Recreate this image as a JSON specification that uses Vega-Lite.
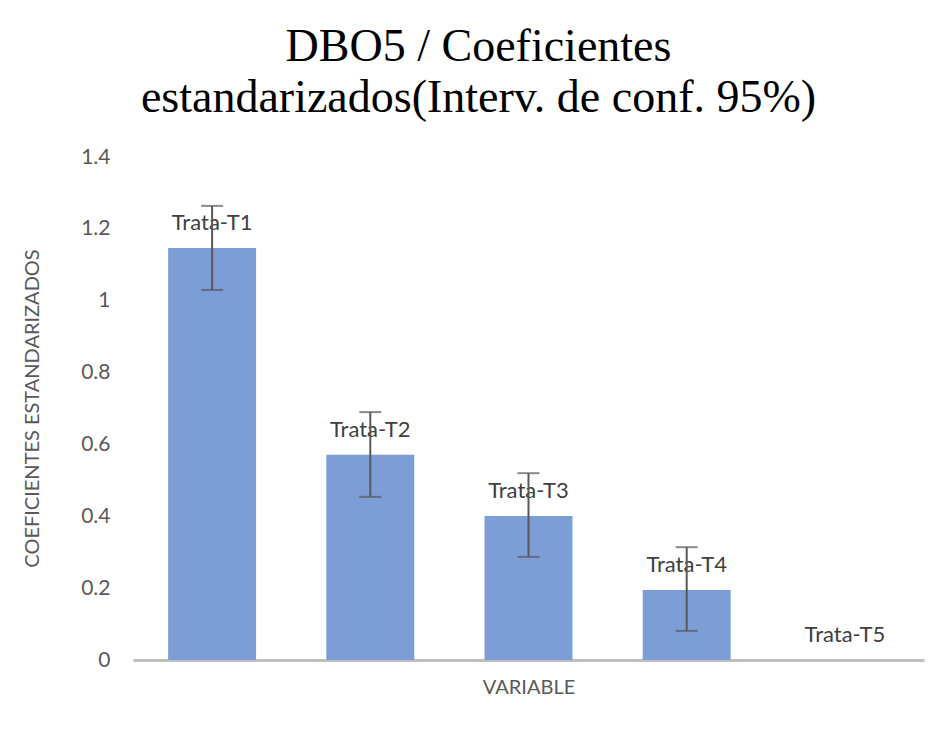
{
  "$schema": "https://vega.github.io/schema/vega-lite/v6.json",
  "autosize": "none",
  "width": 791,
  "height": 503,
  "padding": {"left": 133, "top": 157, "right": 18, "bottom": 71},
  "background": "white",
  "title": {
    "text": ["DBO5 / Coeficientes", "estandarizados(Interv. de conf. 95%)"],
    "font": "Liberation Serif",
    "fontSize": 46,
    "fontWeight": "normal",
    "color": "#000000",
    "lineHeight": 51,
    "anchor": "middle",
    "dx": -50,
    "offset": 24
  },
  "config": {
    "view": {"stroke": null},
    "axis": {"labelFont": "Lato", "titleFont": "Lato", "labelColor": "#595959", "titleColor": "#595959", "titleFontWeight": "normal"}
  },
  "data": {
    "values": [
      {"variable": "Trata-T1", "coef": 1.147, "lo": 1.030, "hi": 1.264},
      {"variable": "Trata-T2", "coef": 0.571, "lo": 0.454, "hi": 0.690},
      {"variable": "Trata-T3", "coef": 0.401, "lo": 0.287, "hi": 0.520},
      {"variable": "Trata-T4", "coef": 0.195, "lo": 0.081, "hi": 0.314},
      {"variable": "Trata-T5", "coef": 0, "lo": null, "hi": null}
    ]
  },
  "encoding": {
    "x": {
      "field": "variable",
      "type": "nominal",
      "sort": null,
      "scale": {"paddingInner": 0.444, "paddingOuter": 0.222},
      "axis": {"title": "VARIABLE", "labels": false, "ticks": false, "domainColor": "#BFBFBF", "domainWidth": 3, "titleFontSize": 20, "titlePadding": 17}
    }
  },
  "layer": [
    {
      "mark": {"type": "bar", "color": "#7C9DD5"},
      "encoding": {
        "y": {
          "field": "coef",
          "type": "quantitative",
          "scale": {"domain": [0, 1.4]},
          "axis": {"title": "COEFICIENTES ESTANDARIZADOS", "values": [0, 0.2, 0.4, 0.6, 0.8, 1, 1.2, 1.4], "format": "~g", "grid": false, "domain": false, "ticks": false, "labelFontSize": 21, "labelPadding": 23, "titleFontSize": 20, "titleX": -91, "titleY": 251}
        }
      }
    },
    {
      "mark": {"type": "text", "font": "Lato", "fontSize": 22, "color": "#404040", "baseline": "middle", "dy": -25},
      "encoding": {
        "y": {"field": "coef", "type": "quantitative"},
        "text": {"field": "variable"}
      }
    },
    {
      "transform": [{"filter": "datum.lo != null"}],
      "mark": {"type": "rule", "color": "#595959", "strokeWidth": 2},
      "encoding": {
        "y": {"field": "lo", "type": "quantitative"},
        "y2": {"field": "hi"}
      }
    },
    {
      "transform": [{"filter": "datum.lo != null"}],
      "mark": {"type": "tick", "color": "#595959", "thickness": 2, "size": 22},
      "encoding": {
        "y": {"field": "lo", "type": "quantitative"}
      }
    },
    {
      "transform": [{"filter": "datum.lo != null"}],
      "mark": {"type": "tick", "color": "#595959", "thickness": 2, "size": 22},
      "encoding": {
        "y": {"field": "hi", "type": "quantitative"}
      }
    }
  ]
}
